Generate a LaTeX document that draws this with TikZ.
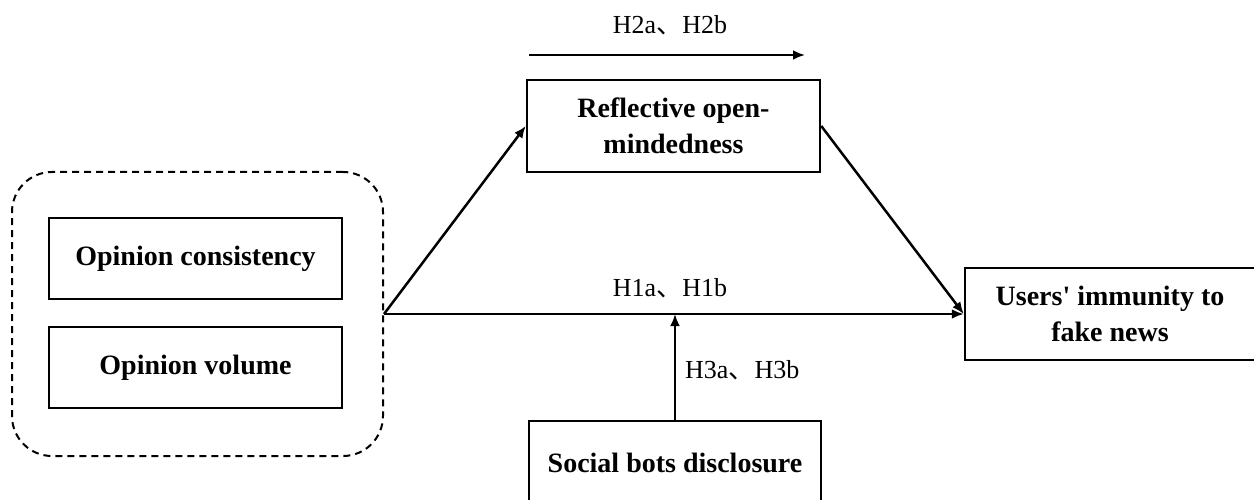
\documentclass[tikz,border=0pt]{standalone}
\usepackage{fontspec}
\setmainfont{Liberation Serif}
\newfontfamily\cjk{Noto Sans CJK SC}
\usetikzlibrary{arrows.meta}
\begin{document}
\begin{tikzpicture}[x=1pt,y=-1pt,
  box/.style={draw,line width=2.5pt,align=center,inner sep=0pt,
    font=\fontsize{28}{36}\selectfont\bfseries},
  grpbox/.style={draw,line width=2pt,dash pattern=on 7pt off 5pt,rounded corners=40pt,inner sep=0pt},
  lbl/.style={font=\fontsize{26}{30}\selectfont,inner sep=0pt},
  arr/.style={line width=2.5pt,-{Latex[length=12pt,width=10pt]}}]
\useasboundingbox (0,0) rectangle (1254,500);
\node[grpbox,minimum width=371pt,minimum height=284pt] (grp) at (197.5,314) {};
\node[box,minimum width=293pt,minimum height=81pt] (oc) at (195.5,258.5) {Opinion consistency};
\node[box,minimum width=293pt,minimum height=81pt] (ov) at (195.5,367.5) {Opinion volume};
\node[box,minimum width=293pt,minimum height=92pt] (rom) at (673.5,126) {Reflective open-\\mindedness};
\node[box,minimum width=290pt,minimum height=92pt] (usr) at (1110,314) {Users\textquotesingle{} immunity to\\fake news};
\node[box,minimum width=292pt,minimum height=84pt] (sbd) at (675,463) {Social bots disclosure};
\coordinate (h2s) at (529,55);
\coordinate (h2e) at (805,55);
\draw[arr] (h2s) -- (h2e);
\draw[arr] (grp.east) -- (usr.west);
\draw[arr] (grp.east) -- (rom.west);
\draw[arr] (rom.east) -- (usr.west);
\draw[arr] (sbd.north) -- (sbd.north |- grp.east);
\node[lbl] (l2) at (670,25) {H2a{\cjk 、}H2b};
\node[lbl] (l1) at (670,288) {H1a{\cjk 、}H1b};
\node[lbl,anchor=west] (l3) at (685,370) {H3a{\cjk 、}H3b};
\end{tikzpicture}
\end{document}
